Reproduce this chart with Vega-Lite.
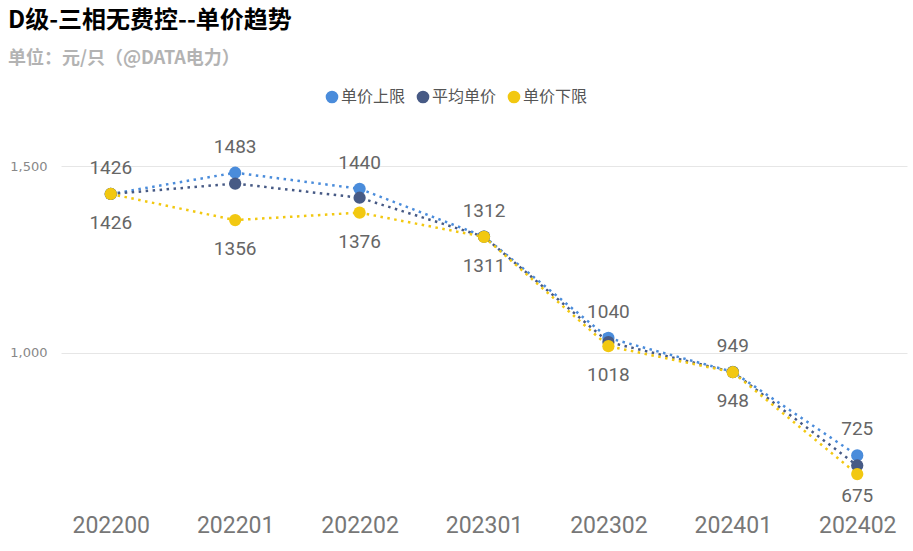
{
  "$schema": "https://vega.github.io/schema/vega-lite/v6.json",
  "autosize": {"type": "none"},
  "width": 846,
  "height": 380,
  "padding": {"left": 61, "top": 125, "right": 6, "bottom": 46},
  "background": "white",
  "view": {"stroke": null},
  "title": {
    "text": "D级-三相无费控--单价趋势",
    "subtitle": "单位：元/只（@DATA电力）",
    "anchor": "start",
    "frame": "group",
    "dx": -53,
    "offset": 21,
    "font": "Noto Sans CJK SC",
    "fontSize": 24,
    "fontWeight": "bold",
    "color": "#000000",
    "subtitleFont": "Noto Sans CJK SC",
    "subtitleFontSize": 18,
    "subtitleFontWeight": "bold",
    "subtitleColor": "#b3b3b3",
    "subtitlePadding": 17
  },
  "data": {
    "values": [
      {"month": "202200", "series": "单价上限", "value": 1426},
      {"month": "202201", "series": "单价上限", "value": 1483},
      {"month": "202202", "series": "单价上限", "value": 1440},
      {"month": "202301", "series": "单价上限", "value": 1312},
      {"month": "202302", "series": "单价上限", "value": 1040},
      {"month": "202401", "series": "单价上限", "value": 949},
      {"month": "202402", "series": "单价上限", "value": 725},
      {"month": "202200", "series": "平均单价", "value": 1426},
      {"month": "202201", "series": "平均单价", "value": 1454},
      {"month": "202202", "series": "平均单价", "value": 1416},
      {"month": "202301", "series": "平均单价", "value": 1311.5},
      {"month": "202302", "series": "平均单价", "value": 1029},
      {"month": "202401", "series": "平均单价", "value": 948.5},
      {"month": "202402", "series": "平均单价", "value": 698},
      {"month": "202200", "series": "单价下限", "value": 1426},
      {"month": "202201", "series": "单价下限", "value": 1356},
      {"month": "202202", "series": "单价下限", "value": 1376},
      {"month": "202301", "series": "单价下限", "value": 1311},
      {"month": "202302", "series": "单价下限", "value": 1018},
      {"month": "202401", "series": "单价下限", "value": 948},
      {"month": "202402", "series": "单价下限", "value": 675}
    ]
  },
  "encoding": {
    "x": {
      "field": "month",
      "type": "ordinal",
      "sort": null,
      "scale": {"type": "point", "padding": 0.4},
      "axis": {
        "title": null,
        "labelAngle": 0,
        "labelFont": "Roboto",
        "labelFontSize": 23,
        "labelColor": "#777777",
        "labelPadding": 9,
        "domain": false,
        "ticks": false,
        "grid": false
      }
    },
    "y": {
      "field": "value",
      "type": "quantitative",
      "scale": {"domain": [592, 1611], "nice": false, "zero": false},
      "axis": {
        "title": null,
        "values": [1000, 1500],
        "format": ",.0f",
        "labelFont": "DejaVu Sans",
        "labelFontSize": 13,
        "labelColor": "#888888",
        "labelPadding": 14,
        "domain": false,
        "ticks": false,
        "gridColor": "#e6e6e6",
        "gridWidth": 1
      }
    },
    "color": {
      "field": "series",
      "type": "nominal",
      "sort": ["单价上限", "平均单价", "单价下限"],
      "scale": {
        "domain": ["单价上限", "平均单价", "单价下限"],
        "range": ["#4a8cdb", "#475a85", "#f2c811"]
      },
      "legend": {
        "title": null,
        "orient": "none",
        "direction": "horizontal",
        "legendX": 263,
        "legendY": -36,
        "symbolType": "circle",
        "symbolSize": 160,
        "symbolOpacity": 1,
        "symbolStrokeWidth": 0,
        "labelFont": "Noto Sans CJK SC",
        "labelFontSize": 16,
        "labelColor": "#555555",
        "labelOffset": 1,
        "columnPadding": 9
      }
    }
  },
  "layer": [
    {
      "mark": {"type": "line", "strokeWidth": 2.5, "strokeDash": [2.5, 4.5], "strokeCap": "butt"},
      "encoding": {"detail": {"field": "series"}}
    },
    {
      "mark": {"type": "point", "filled": true, "size": 150, "opacity": 1, "shape": "circle"}
    },
    {
      "transform": [{"filter": "datum.series === '单价上限'"}],
      "mark": {"type": "text", "dy": -26, "font": "Roboto", "fontSize": 19, "color": "#666666"},
      "encoding": {"text": {"field": "value", "type": "quantitative"}, "color": {"value": "#666666"}}
    },
    {
      "transform": [{"filter": "datum.series === '单价下限' && datum.month !== '202402'"}],
      "mark": {"type": "text", "dy": 29, "font": "Roboto", "fontSize": 19, "color": "#666666"},
      "encoding": {"text": {"field": "value", "type": "quantitative"}, "color": {"value": "#666666"}}
    },
    {
      "transform": [{"filter": "datum.series === '单价下限' && datum.month === '202402'"}],
      "mark": {"type": "text", "dy": 22, "font": "Roboto", "fontSize": 19, "color": "#666666"},
      "encoding": {"text": {"field": "value", "type": "quantitative"}, "color": {"value": "#666666"}}
    }
  ]
}
